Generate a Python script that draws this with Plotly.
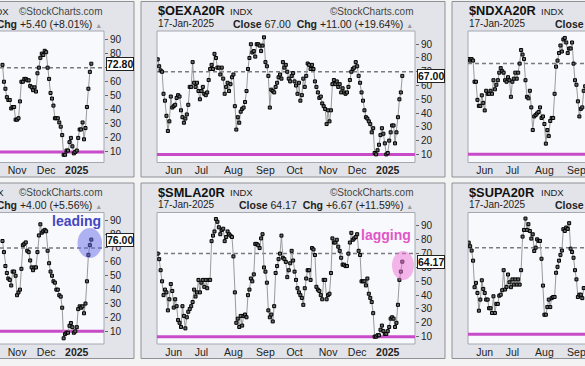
import pandas as pd
import plotly.graph_objects as go

W, H = 585, 366
FONT = "Liberation Sans, Arial, sans-serif"

# ---------------- data ----------------
HOLIDAYS = ["2024-05-27", "2024-06-19", "2024-07-04", "2024-09-02",
            "2024-11-28", "2024-12-25", "2025-01-01", "2025-01-09"]
DATES = [d.strftime("%Y-%m-%d") for d in pd.bdate_range("2024-05-16", "2025-01-17")
         if d.strftime("%Y-%m-%d") not in HOLIDAYS]

MONTH_TICK_DATES = ["2024-06-03", "2024-07-01", "2024-08-01", "2024-09-03",
                    "2024-10-01", "2024-11-01", "2024-12-02", "2025-01-02"]
MONTH_TICK_LABELS = ["Jun", "Jul", "Aug", "Sep", "Oct", "Nov", "Dec", "<b>2025</b>"]
Y_TICK_VALUES = [10, 20, 30, 40, 50, 60, 70, 80, 90]
UPPER_LEVEL = 70
LOWER_LEVEL = 10

# top-left panel (only the last 62 sessions are visible)
SPXA_VALUES = [72, 60, 55, 49, 47, 47, 41, 42, 42, 33, 33, 34, 46, 60, 60, 62, 62, 61, 61, 57,
               56, 54, 56, 53, 66, 70, 77, 80, 79, 82, 81, 70, 62, 52, 48, 43, 34, 34, 34, 31,
               28, 22, 8, 8, 11, 11, 17, 20, 14, 9, 10, 11, 20, 26, 26, 31, 19, 27, 42, 55,
               67, 72.8]
# top-middle panel
OEXA_VALUES = [79, 74, 71, 70, 54, 49, 38, 27, 34, 52, 44, 45, 46, 51, 53, 52, 42, 37, 33, 36,
               39, 46, 59, 59, 77, 62, 59, 62, 56, 50, 56, 59, 54, 53, 55, 64, 72, 75, 72, 83,
               80, 73, 73, 68, 73, 65, 54, 59, 62, 56, 61, 66, 68, 45, 28, 37, 33, 41, 43, 44,
               48, 56, 72, 80, 90, 84, 85, 81, 90, 90, 89, 85, 89, 95, 77, 74, 67, 44, 57, 56,
               55, 59, 62, 66, 68, 65, 77, 73, 75, 70, 65, 63, 67, 69, 63, 60, 54, 62, 49, 53,
               65, 59, 67, 76, 75, 72, 75, 72, 63, 59, 55, 51, 52, 47, 45, 43, 32, 42, 34, 42,
               61, 64, 61, 63, 59, 61, 55, 58, 55, 54, 55, 59, 64, 70, 72, 73, 77, 74, 67, 62,
               55, 49, 42, 37, 36, 34, 32, 26, 29, 11, 10, 13, 17, 24, 29, 25, 18, 10, 11, 20,
               26, 31, 31, 18, 26, 37, 50, 55, 67]
# top-right panel (only the first 81 sessions are visible)
NDXA_VALUES = [73, 72, 73, 72, 58, 58, 46, 42, 42, 49, 44, 39, 52, 50, 50, 52, 50, 59, 53, 56,
               59, 64, 67, 65, 64, 59, 58, 61, 59, 48, 58, 60, 64, 60, 64, 70, 79, 76, 73, 59,
               48, 47, 52, 41, 26, 35, 36, 37, 38, 41, 34, 35, 30, 17, 26, 22, 32, 34, 34, 50,
               68, 72, 77, 82, 78, 86, 87, 84, 77, 80, 80, 84, 70, 59, 56, 45, 35, 40, 41, 52,
               55]
# bottom-left panel (only the last 62 sessions are visible)
MIDA_VALUES = [75, 67, 57, 52, 48, 47, 43, 53, 53, 50, 36, 38, 40, 55, 72, 73, 74, 68, 67, 61,
               56, 54, 56, 56, 67, 79, 87, 81, 82, 83, 82, 68, 59, 53, 50, 46, 45, 40, 40, 36,
               35, 27, 5, 8, 9, 9, 14, 16, 13, 9, 10, 13, 26, 28, 27, 28, 23, 30, 46, 65,
               72, 76]
# bottom-middle panel
SMLA_VALUES = [70, 66, 58, 50, 40, 44, 42, 29, 37, 48, 43, 31, 37, 32, 22, 20, 17, 32, 25, 16,
               24, 28, 30, 32, 35, 44, 39, 42, 51, 42, 49, 51, 46, 51, 45, 51, 51, 79, 83, 86,
               95, 93, 89, 84, 87, 88, 79, 82, 86, 84, 83, 82, 68, 42, 20, 23, 17, 25, 18, 25,
               26, 24, 40, 44, 52, 50, 55, 77, 77, 76, 74, 81, 84, 60, 57, 49, 29, 24, 26, 21,
               32, 56, 61, 66, 70, 83, 67, 66, 64, 53, 58, 63, 72, 65, 57, 51, 45, 42, 40, 38,
               33, 45, 52, 58, 58, 51, 74, 73, 69, 46, 44, 43, 40, 37, 51, 51, 37, 40, 41, 56,
               81, 78, 78, 80, 75, 72, 67, 62, 62, 61, 61, 70, 78, 85, 80, 81, 82, 84, 72, 69,
               50, 50, 50, 47, 52, 41, 38, 35, 27, 10, 10, 11, 11, 15, 18, 14, 12, 12, 14, 17,
               23, 24, 23, 17, 20, 33, 51, 57, 64.17]
# bottom-right panel (only the first 80 sessions are visible)
SUPA_VALUES = [73.5, 71, 68, 61, 42.6, 45.6, 38.6, 26.3, 34, 47.4, 41.4, 38.6, 34, 34, 28, 28,
               24.7, 36.3, 24.7, 31, 31, 36.7, 37.4, 40.5, 54.4, 41, 42.8, 51.4, 46, 42.6, 48,
               44.4, 48, 44.4, 48, 44.4, 54.4, 77.7, 82.3, 90.2, 82.3, 86.3, 81.6, 76.3, 79.3,
               67.7, 70, 75.8, 74.7, 74.7, 62.3, 43.7, 23.5, 23.5, 28.8, 34, 28.8, 35, 35.8,
               35.8, 52.6, 56.7, 61, 65, 68, 82.8, 81.6, 84, 83, 87, 69.3, 67, 63, 54.4, 48,
               35.8, 37.4, 37.4, 35, 42]

SYMBOLS = ["$SPXA20R", "$OEXA20R", "$NDXA20R", "$MIDA20R", "$SMLA20R", "$SUPA20R"]
CLOSE_TEXT = ["72.80", "67.00", "72.28", "76.00", "64.17", "70.22"]
CHG_TEXT = ["+5.40 (+8.01%)", "+11.00 (+19.64%)", "+5.94 (+8.95%)",
            "+4.00 (+5.56%)", "+6.67 (+11.59%)", "+6.10 (+9.52%)"]
DATE_TEXT = "17-Jan-2025"

# ---------------- geometry (pixels) ----------------
COL_DX = [-311, 0, 311]
ROW_DY = [0, 181.5]
PANEL_X = (141, 445)
PANEL_Y = (1.5, 177)
PLOT_X = (157, 415)
PLOT_Y = (31, 162.5)
X0_PX = 157.7
PX_PER_SESSION = 1.456

PANELS = [
    dict(values=SPXA_VALUES, dates=DATES[-len(SPXA_VALUES):], row=0, col=0, yr=[2.5, 96.1], indx_right=11),
    dict(values=OEXA_VALUES, dates=DATES, row=0, col=1, yr=[4.1, 99.6]),
    dict(values=NDXA_VALUES, dates=DATES[:len(NDXA_VALUES)], row=0, col=2, yr=[4.5, 91.6]),
    dict(values=MIDA_VALUES, dates=DATES[-len(MIDA_VALUES):], row=1, col=0, yr=[0.9, 95.5], indx_right=6),
    dict(values=SMLA_VALUES, dates=DATES, row=1, col=1, yr=[4.7, 99.7]),
    dict(values=SUPA_VALUES, dates=DATES[:len(SUPA_VALUES)], row=1, col=2, yr=[3.2, 94.4]),
]


def fx(px):
    return px / W


def fy(py):
    return 1 - py / H


fig = go.Figure()
shapes = []
annotations = []
layout_axes = {}

for k, p in enumerate(PANELS, start=1):
    dx = COL_DX[p["col"]]
    dy = ROW_DY[p["row"]]
    xs = "x" if k == 1 else f"x{k}"
    ys = "y" if k == 1 else f"y{k}"
    xa = "xaxis" if k == 1 else f"xaxis{k}"
    ya = "yaxis" if k == 1 else f"yaxis{k}"

    # panel frame and plot area
    shapes.append(dict(type="rect", xref="paper", yref="paper", layer="below",
                       x0=fx(PANEL_X[0] + dx), x1=fx(PANEL_X[1] + dx),
                       y0=fy(PANEL_Y[1] + dy), y1=fy(PANEL_Y[0] + dy),
                       fillcolor="#e2e4e9", line=dict(color="#8f9197", width=1)))
    shapes.append(dict(type="rect", xref="paper", yref="paper", layer="below",
                       x0=fx(PLOT_X[0] + dx), x1=fx(PLOT_X[1] + dx),
                       y0=fy(PLOT_Y[1] + dy), y1=fy(PLOT_Y[0] + dy),
                       fillcolor="#f8f9fc", line=dict(color="#a4a8b0", width=1)))

    left = PLOT_X[0] + dx
    right = PLOT_X[1] + dx
    vl, vr = max(left, 0), min(right, W)
    origin = X0_PX + dx
    xr = [(vl - origin) / PX_PER_SESSION, (vr - origin) / PX_PER_SESSION]
    scale_visible = right + 30 <= W

    layout_axes[xa] = dict(
        type="category", categoryorder="array", categoryarray=DATES,
        range=xr, domain=[fx(vl), fx(vr)], anchor=ys,
        tickmode="array", tickvals=MONTH_TICK_DATES, ticktext=MONTH_TICK_LABELS,
        showgrid=False, zeroline=False, showline=False, ticks="",
        tickfont=dict(family=FONT, size=10.5, color="#222"), fixedrange=True)
    layout_axes[ya] = dict(
        domain=[fy(PLOT_Y[1] + dy), fy(PLOT_Y[0] + dy)], anchor=xs, side="right",
        range=p["yr"], tickmode="array", tickvals=Y_TICK_VALUES,
        showgrid=False, zeroline=False, showline=False,
        showticklabels=scale_visible,
        ticks="outside" if scale_visible else "", ticklen=3, tickcolor="#666", tickwidth=1,
        tickfont=dict(family=FONT, size=10, color="#222"), fixedrange=True)

    # reference levels
    shapes.append(dict(type="line", xref=f"{xs} domain", yref=ys, layer="below",
                       x0=0, x1=1, y0=UPPER_LEVEL, y1=UPPER_LEVEL,
                       line=dict(color="#7a7a80", width=1.5, dash="4px,3px")))
    shapes.append(dict(type="line", xref=f"{xs} domain", yref=ys, layer="below",
                       x0=0, x1=1, y0=LOWER_LEVEL, y1=LOWER_LEVEL,
                       line=dict(color="#c84cc8", width=3)))

    fig.add_trace(go.Scatter(
        x=p["dates"], y=p["values"], xaxis=xs, yaxis=ys, mode="lines+markers",
        line=dict(color="#9a9a9a", width=1),
        marker=dict(symbol="square", size=3, color="#6a6a6a", line=dict(color="#000", width=1)),
        hoverinfo="x+y", showlegend=False))

    # header texts
    sym = SYMBOLS[k - 1]
    annotations.append(dict(xref="paper", yref="paper", x=fx(156 + dx), y=fy(10.5 + dy),
                            xanchor="left", yanchor="middle", showarrow=False,
                            text=f"<b>{sym}</b>", font=dict(family=FONT, size=12.8, color="#111")))
    if "indx_right" in p:
        annotations.append(dict(xref="paper", yref="paper", x=fx(p["indx_right"]), y=fy(11 + dy),
                                xanchor="right", yanchor="middle", showarrow=False,
                                text="INDX", font=dict(family=FONT, size=9.5, color="#222")))
    else:
        annotations.append(dict(xref="paper", yref="paper", x=fx(228 + dx), y=fy(11 + dy),
                                xanchor="left", yanchor="middle", showarrow=False,
                                text="INDX", font=dict(family=FONT, size=9.5, color="#222")))
    annotations.append(dict(xref="paper", yref="paper", x=fx(415.5 + dx), y=fy(11 + dy),
                            xanchor="right", yanchor="middle", showarrow=False,
                            text="©StockCharts.com", font=dict(family=FONT, size=10, color="#444")))
    annotations.append(dict(xref="paper", yref="paper", x=fx(156 + dx), y=fy(23.5 + dy),
                            xanchor="left", yanchor="middle", showarrow=False,
                            text=DATE_TEXT, font=dict(family=FONT, size=10, color="#222")))
    annotations.append(dict(xref="paper", yref="paper", x=fx(415 + dx), y=fy(23.5 + dy),
                            xanchor="right", yanchor="middle", showarrow=False,
                            text=(f"<b>Close</b> {CLOSE_TEXT[k - 1]}  <b>Chg</b> {CHG_TEXT[k - 1]} "
                                  "<span style='color:#9a9a9a;font-size:7px'>▲</span>"),
                            font=dict(family=FONT, size=10.5, color="#222")))
    # last-value label on the price scale
    if scale_visible:
        annotations.append(dict(xref="paper", yref=ys, x=fx(right + 1.5), y=p["values"][-1],
                                xanchor="left", yanchor="middle", showarrow=False,
                                text=f"<b>{CLOSE_TEXT[k - 1]}</b>",
                                font=dict(family=FONT, size=10.5, color="#111"),
                                bgcolor="white", bordercolor="#222", borderwidth=1, borderpad=0))

# highlight ellipses and notes
shapes.append(dict(type="circle", xref="paper", yref="paper", layer="above",
                   x0=fx(77.5), x1=fx(102), y0=fy(258), y1=fy(228),
                   fillcolor="rgba(95,100,232,0.48)", line=dict(width=0)))
shapes.append(dict(type="circle", xref="paper", yref="paper", layer="above",
                   x0=fx(392), x1=fx(414), y0=fy(280), y1=fy(251),
                   fillcolor="rgba(238,112,215,0.5)", line=dict(width=0)))
annotations.append(dict(xref="paper", yref="paper", x=fx(103), y=fy(221),
                        xanchor="right", yanchor="middle", showarrow=False,
                        text="<b>leading</b>", font=dict(family=FONT, size=14, color="#4347c2")))
annotations.append(dict(xref="paper", yref="paper", x=fx(413), y=fy(235),
                        xanchor="right", yanchor="middle", showarrow=False,
                        text="<b>lagging</b>", font=dict(family=FONT, size=14, color="#e056c9")))

fig.update_layout(width=W, height=H, margin=dict(l=0, r=0, t=0, b=0),
                  paper_bgcolor="#f3f3f3", plot_bgcolor="rgba(0,0,0,0)",
                  showlegend=False, shapes=shapes, annotations=annotations,
                  font=dict(family=FONT), **layout_axes)

fig.write_html("out.html", config={"displayModeBar": False},
               post_script="document.body.style.margin='0';document.body.style.overflow='hidden';"
                           "document.body.style.background='#f3f3f3';")
